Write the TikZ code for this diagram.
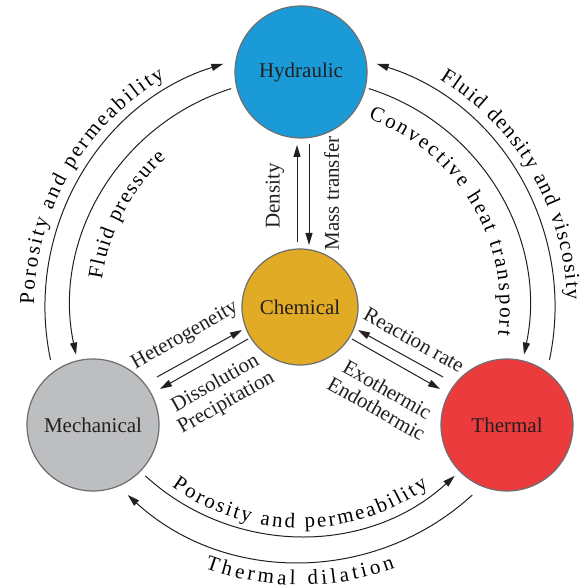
\documentclass[tikz,border=0pt]{standalone}
\usepackage{fontspec}
\setmainfont{Liberation Serif}
\usetikzlibrary{arrows.meta,decorations.text}
\definecolor{hydc}{HTML}{1A9AD7}
\definecolor{chemc}{HTML}{E2AB25}
\definecolor{mechc}{HTML}{BDBEC0}
\definecolor{thermc}{HTML}{EC3B3D}
\definecolor{rimc}{HTML}{6D6E71}
\definecolor{txtc}{HTML}{231F20}
\begin{document}
\fontsize{10.5}{11}\selectfont
\begin{tikzpicture}[x=0.5pt,y=0.5pt,
  proc/.style={circle, draw=rimc, line width=0.6pt, text=txtc, inner sep=0pt,
    font=\fontsize{10.5}{11}\selectfont},
  conn/.style={line width=0.5pt, draw=txtc, -{Triangle[length=6pt,width=3.5pt]}},
  lbl/.style={text=txtc, inner sep=0pt, font=\fontsize{10.5}{11}\selectfont},
  arctext/.style={decorate, color=txtc,
    decoration={text along path, text={#1}, text align={fit to path}}},
]
\useasboundingbox (0,0) rectangle (588,588);
% process circles
\node[proc, fill=hydc, minimum size=66pt] (hyd) at (301,516) {Hydraulic};
\node[proc, fill=chemc, minimum size=58pt] (chem) at (300,281) {Chemical};
\node[proc, fill=mechc, minimum size=66pt] (mech) at (93,163) {Mechanical};
\node[proc, fill=thermc, minimum size=66pt] (therm) at (507,163) {Thermal};
\coordinate (c) at (chem.center);
% outer/inner arcs
\draw[conn] ([shift={(192:255)}]c) arc[start angle=192, end angle=107.5, radius=255];
\draw[conn] ([shift={(107.5:229)}]c) arc[start angle=107.5, end angle=192, radius=229];
\draw[conn] ([shift={(348:255)}]c) arc[start angle=348, end angle=432.5, radius=255];
\draw[conn] ([shift={(72.5:229)}]c) arc[start angle=72.5, end angle=-12, radius=229];
\draw[conn] ([shift={(227.5:229)}]c) arc[start angle=227.5, end angle=312.5, radius=229];
\draw[conn] ([shift={(312.5:255)}]c) arc[start angle=312.5, end angle=227.5, radius=255];
% arc texts
\path[arctext={Porosity and permeability}] ([shift={(179.5:266)}]c) arc[start angle=179.5, end angle=120.5, radius=266];
\path[arctext={Fluid pressure}] ([shift={(172:200)}]c) arc[start angle=172, end angle=132, radius=200];
\path[arctext={Fluid density and viscosity}] ([shift={(58.5:267)}]c) arc[start angle=58.5, end angle=1.5, radius=267];
\path[arctext={Convective heat transport}] ([shift={(70:200)}]c) arc[start angle=70, end angle=-8, radius=200];
\path[arctext={Porosity and permeability}] ([shift={(234.5:221)}]c) arc[start angle=234.5, end angle=305.5, radius=221];
\path[arctext={Thermal dilation}] ([shift={(250:278)}]c) arc[start angle=250, end angle=290, radius=278];
% straight connectors near Chemical
\coordinate (d1) at (297,346); \coordinate (d2) at (297,443);
\coordinate (m1) at (309,444); \coordinate (m2) at (309,343);
\coordinate (h1) at (157,211); \coordinate (h2) at (242,258);
\coordinate (p1) at (248,249); \coordinate (p2) at (160,199);
\coordinate (r1) at (443,211); \coordinate (r2) at (358,258);
\coordinate (e1) at (352,249); \coordinate (e2) at (440,199);
\draw[conn] (d1) -- (d2);
\draw[conn] (m1) -- (m2);
\draw[conn] (h1) -- (h2);
\draw[conn] (p1) -- (p2);
\draw[conn] (r1) -- (r2);
\draw[conn] (e1) -- (e2);
% labels
\node[lbl, rotate=90] (dens) at (275,392) {Density};
\node[lbl, rotate=90] (mass) at (331.5,394.5) {Mass transfer};
\node[lbl, rotate=29.5] (het) at (185,252) {Heterogeneity};
\node[lbl, rotate=29.5, align=center] (diss) at (221,194.5) {Dissolution\\Precipitation};
\node[lbl, rotate=-29.5] (react) at (414,248) {Reaction rate};
\node[lbl, rotate=-29.5, align=center] (exo) at (382,189) {Exothermic\\Endothermic};
\end{tikzpicture}
\end{document}
